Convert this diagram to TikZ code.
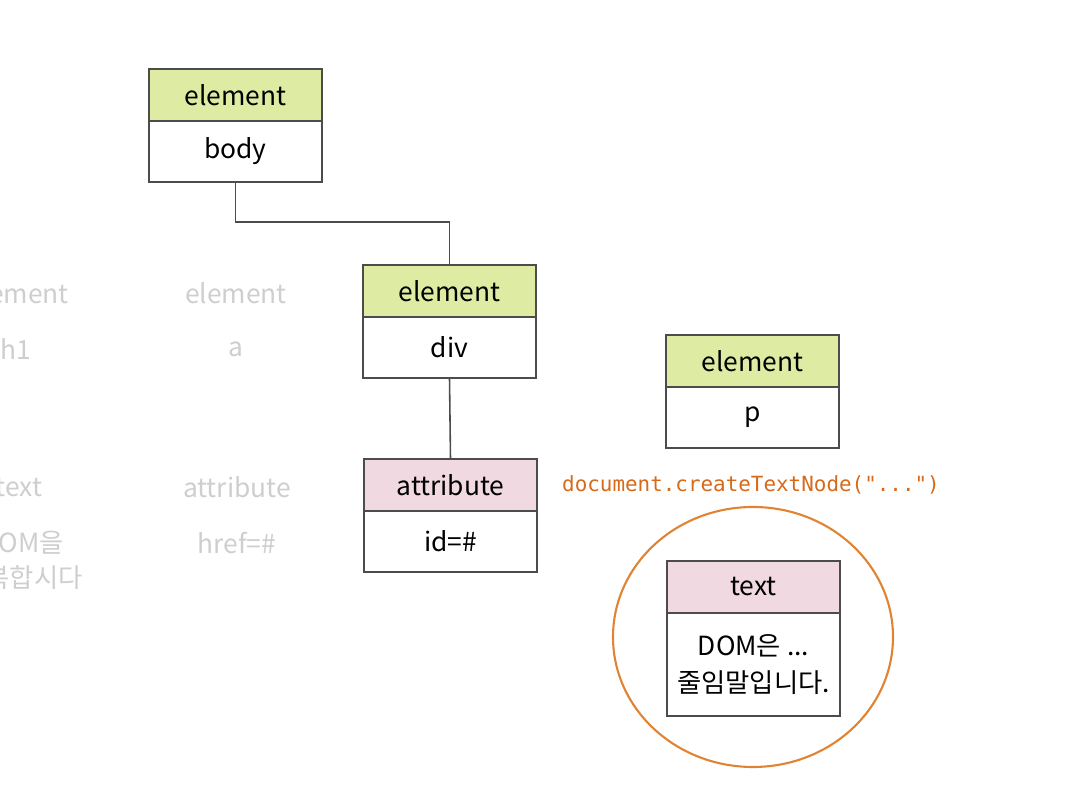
\documentclass[tikz,border=0pt]{standalone}
\usepackage{fontspec}
\setmainfont{Noto Sans CJK KR}
\newfontfamily\codefont{DejaVu Sans Mono}
\usetikzlibrary{positioning}
\definecolor{elemgreen}{RGB}{221,236,162}
\definecolor{attrpink}{RGB}{241,217,225}
\definecolor{ringorange}{RGB}{224,132,52}
\definecolor{codeorange}{RGB}{214,106,26}
\definecolor{ghostgray}{RGB}{206,206,206}

\begin{document}
\begin{tikzpicture}[x=0.02cm,y=-0.02cm,
    box/.style={draw=black!70,line width=0.9pt,outer sep=0pt,minimum width=3.46cm,font=\fontsize{15}{21}\selectfont},
    head/.style={box,minimum height=1.04cm},
    value/.style={box,fill=white,minimum height=1.22cm,below=0pt of #1},
    ghost/.style={ghostgray,font=\fontsize{15}{21}\selectfont}]
\useasboundingbox (0,0) rectangle (1086,786);
% faded part of the tree
\begin{scope}
\clip (0,0) rectangle (1086,786);
\node (gelem) [ghost] at (18,293) {element};
\node (gh) [ghost] at (16,349) {h1};
\node (gtext) [ghost] at (19,488) {text};
\node (gdom) [ghost] at (22,543) {DOM을};
\node (gdom2) [ghost] at (22,578) {정복합시다};
\node (gelema) [ghost] at (236,293) {element};
\node (ga) [ghost] at (236,349) {a};
\node (gattr) [ghost] at (237,487) {attribute};
\node (ghref) [ghost] at (237,543) {href=\#};
\end{scope}
% boxes
\node (bodyhead) [head,fill=elemgreen] at (235.5,95) {element};
\node (bodyval) [value=bodyhead] {body};
\node (divhead) [head,fill=elemgreen] at (449.5,291) {element};
\node (divval) [value=divhead] {div};
\node (attrhead) [head,fill=attrpink] at (450.5,485) {attribute};
\node (attrval) [value=attrhead] {id=\#};
\node (phead) [head,fill=elemgreen] at (752.5,361) {element};
\node (pval) [value=phead] {p};
\draw[ringorange,line width=1.2pt] (753,637) ellipse [x radius=140,y radius=130];
\node (texthead) [head,fill=attrpink] at (753.5,587) {text};
\node (textval) [value=texthead,minimum height=2.06cm,align=center] {DOM은 ...\\줄임말입니다.};
\node (code) [codeorange,font=\codefont\fontsize{11.9}{14}\selectfont] at (751,485) {document.createTextNode("...")};
% links
\draw[black!70,line width=0.9pt] (bodyval.south) -- ++(0,40) -| (divhead.north);
\draw[black!70,line width=0.9pt] (divval.south) -- (attrhead.north);
\end{tikzpicture}
\end{document}
